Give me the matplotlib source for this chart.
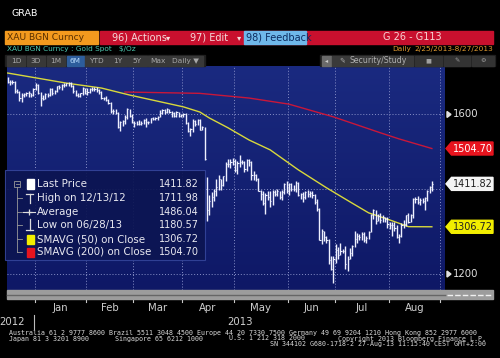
import matplotlib
matplotlib.use("Agg")
import matplotlib.pyplot as plt
import matplotlib.patches as mpatches
import matplotlib.transforms as mtransforms
from matplotlib.lines import Line2D
from matplotlib.colors import LinearSegmentedColormap
import numpy as np
import pandas as pd

W, H = 500, 358

# daily XAU bars, 13 Dec 2012 .. 27 Aug 2013
closes = [1696, 1696, 1697, 1668, 1667, 1647, 1657, 1659, 1662, 1663, 1656, 1675,
          1688, 1664, 1648, 1646, 1660, 1656, 1675, 1662, 1669, 1683, 1680, 1688, 1688, 1692, 1692, 1685, 1670, 1658, 1654, 1662, 1677, 1663,
          1667, 1674, 1675, 1676, 1671, 1667, 1649, 1649, 1643, 1634, 1609, 1610, 1603, 1564, 1577, 1581, 1594, 1615, 1596, 1578,
          1576, 1573, 1574, 1576, 1583, 1577, 1577, 1590, 1588, 1590, 1592, 1604, 1613, 1606, 1615, 1607, 1604, 1596, 1606, 1596, 1597,
          1600, 1575, 1553, 1558, 1581, 1574, 1585, 1557, 1564, 1476, 1348, 1368, 1378, 1393, 1404, 1424, 1408, 1431, 1463, 1462, 1468, 1472,
          1447, 1467, 1469, 1468, 1450, 1473, 1468, 1435, 1434, 1425, 1395, 1387, 1364, 1383, 1378, 1370, 1392, 1386, 1393, 1379, 1392, 1412, 1393,
          1412, 1398, 1398, 1415, 1383, 1387, 1378, 1391, 1387, 1390, 1383, 1367, 1349, 1277, 1297, 1284, 1276, 1230, 1211, 1234,
          1254, 1243, 1251, 1250, 1223, 1233, 1247, 1262, 1279, 1285, 1282, 1291, 1276, 1281, 1295, 1335, 1347, 1320, 1333, 1322, 1329, 1325, 1313,
          1311, 1310, 1303, 1283, 1286, 1312, 1313, 1334, 1319, 1335, 1374, 1374, 1366, 1372, 1370, 1376, 1395, 1404, 1411.82]
highs = [1712, 1701, 1701, 1698, 1675, 1670, 1664, 1663, 1665, 1670, 1664, 1677,
         1693, 1689, 1666, 1656, 1662, 1663, 1679, 1678, 1671, 1685, 1686, 1690, 1693, 1694, 1697, 1696, 1688, 1672, 1663, 1664, 1680, 1679,
         1679, 1677, 1680, 1681, 1680, 1674, 1669, 1652, 1654, 1645, 1635, 1615, 1615, 1607, 1580, 1585, 1599, 1619, 1616, 1600,
         1582, 1582, 1585, 1582, 1588, 1589, 1582, 1591, 1593, 1592, 1595, 1612, 1616, 1617, 1618, 1617, 1610, 1606, 1610, 1607, 1600,
         1605, 1604, 1579, 1561, 1587, 1584, 1588, 1587, 1568, 1565, 1430, 1383, 1392, 1398, 1424, 1435, 1425, 1433, 1469, 1477, 1476, 1478,
         1477, 1470, 1488, 1474, 1471, 1477, 1476, 1470, 1445, 1437, 1428, 1397, 1395, 1388, 1394, 1394, 1396, 1397, 1399, 1395, 1396, 1415, 1418,
         1415, 1415, 1408, 1419, 1417, 1389, 1392, 1395, 1397, 1395, 1393, 1387, 1374, 1351, 1302, 1298, 1285, 1278, 1240, 1240,
         1267, 1260, 1268, 1256, 1262, 1240, 1257, 1265, 1298, 1292, 1290, 1294, 1294, 1285, 1298, 1336, 1349, 1348, 1338, 1340, 1335, 1331, 1331,
         1317, 1318, 1317, 1310, 1290, 1316, 1322, 1335, 1339, 1337, 1376, 1378, 1381, 1376, 1377, 1380, 1397, 1406, 1420]
lows = [1692, 1687, 1690, 1664, 1663, 1640, 1636, 1652, 1655, 1652, 1650, 1654,
        1673, 1661, 1626, 1643, 1645, 1652, 1654, 1658, 1660, 1665, 1676, 1673, 1680, 1684, 1683, 1680, 1664, 1655, 1651, 1650, 1658, 1659,
        1656, 1662, 1670, 1670, 1665, 1661, 1645, 1643, 1640, 1630, 1603, 1602, 1600, 1562, 1554, 1567, 1572, 1587, 1592, 1576,
        1565, 1570, 1570, 1570, 1572, 1563, 1572, 1575, 1584, 1583, 1584, 1592, 1600, 1600, 1605, 1604, 1593, 1593, 1594, 1593, 1594,
        1593, 1573, 1550, 1539, 1550, 1568, 1570, 1555, 1555, 1474, 1321, 1335, 1355, 1368, 1382, 1396, 1396, 1407, 1420, 1456, 1452, 1461,
        1443, 1438, 1456, 1463, 1442, 1446, 1459, 1422, 1421, 1420, 1393, 1371, 1359, 1338, 1371, 1355, 1358, 1382, 1382, 1374, 1372, 1387, 1389,
        1385, 1394, 1393, 1392, 1381, 1375, 1366, 1375, 1380, 1378, 1376, 1362, 1344, 1275, 1267, 1273, 1270, 1222, 1208, 1181,
        1224, 1232, 1242, 1246, 1211, 1207, 1232, 1240, 1260, 1268, 1275, 1276, 1271, 1270, 1278, 1294, 1326, 1313, 1320, 1315, 1318, 1319, 1305,
        1302, 1285, 1298, 1281, 1270, 1282, 1303, 1308, 1315, 1317, 1327, 1363, 1361, 1358, 1363, 1348, 1370, 1388, 1393]

# moving averages read at a few points (bar index, price)
sma50_idx = [0, 25, 40, 52, 75, 82, 86, 94, 103, 112, 124, 136, 146, 154, 163, 171, 181]
sma50_val = [1724, 1693, 1678, 1657, 1622, 1607, 1590, 1562, 1528, 1501, 1448, 1402, 1367, 1340, 1323, 1307, 1306.72]
sma200_idx = [50, 82, 103, 120, 139, 159, 167, 181]
sma200_val = [1666, 1662, 1648, 1630, 1593, 1548, 1531, 1504.70]

months = ["Jan", "Feb", "Mar", "Apr", "May", "Jun", "Jul", "Aug"]
legend_names = ["Last Price", "High on 12/13/12", "Average", "Low on 06/28/13",
                "SMAVG (50) on Close", "SMAVG (200) on Close"]
legend_vals = ["1411.82", "1711.98", "1486.04", "1180.57", "1306.72", "1504.70"]

dates = pd.bdate_range("2012-12-13", "2013-09-03")
dates = dates[~dates.isin(pd.to_datetime(["2012-12-25", "2013-01-01"]))]
idx = np.arange(len(closes))
bounds = []
for m in range(1, 10):
    first = np.where((dates.month == m) & (dates.year == 2013))[0][0]
    bounds.append(first - 0.5)

fig = plt.figure(figsize=(W / 100, H / 100), dpi=100, facecolor="black")


def fx(x):
    return x / W


def fy(y):
    return 1 - y / H


def rect(x0, y0, x1, y1, **kw):
    fig.patches.append(mpatches.Rectangle((fx(x0), fy(y1)), (x1 - x0) / W, (y1 - y0) / H,
                                          transform=fig.transFigure, **kw))


def line(xs, ys, **kw):
    fig.add_artist(Line2D([fx(x) for x in xs], [fy(y) for y in ys], transform=fig.transFigure, **kw))


def txt(x, y, s, **kw):
    kw.setdefault("va", "center")
    fig.text(fx(x), fy(y), s, **kw)


# ---- header
txt(12, 13, "GRAB", color="white", fontsize=6.8)
rect(5, 31, 98, 44, color="#f39a1e", zorder=2)
txt(7, 37.5, "XAU BGN Curncy", color="#5a3000", fontsize=6.6)
rect(100, 31, 493, 44, color="#c8102e", zorder=2)
txt(112, 37.5, "96) Actions", color="#f4dada", fontsize=7)
txt(166, 37.5, "\u25be", color="#f4dada", fontsize=6)
txt(190, 37.5, "97) Edit", color="#f4dada", fontsize=7)
txt(237, 37.5, "\u25be", color="#f4dada", fontsize=6)
rect(244, 31, 306, 44, color="#6fb8ea", zorder=2)
txt(246, 37.5, "98) Feedback", color="#0c2c60", fontsize=7)
txt(412, 37.5, "G 26 - G113", color="#f8d4d4", fontsize=7, ha="center")
txt(7, 49.5, "XAU BGN Curncy : Gold Spot   $/Oz", color="#4ec9b0", fontsize=5.3)
txt(392, 49.5, "Daily", color="#e09a30", fontsize=5.3)
txt(493, 49.5, "2/25/2013-8/27/2013", color="#e09a30", fontsize=5.3, ha="right")

# ---- button bar
rect(5, 55, 205, 66, color="#1e1e1e", zorder=2)
buttons = [("1D", 7, 25), ("3D", 27, 45), ("1M", 47, 65), ("6M", 67, 84), ("YTD", 85, 107),
           ("1Y", 108, 127), ("5Y", 128, 147), ("Max", 148, 167), ("Daily \u25bc", 168, 203)]
for lab, a, b in buttons:
    on = lab == "6M"
    rect(a, 56, b, 65.5, color="#2d5d9c" if on else "#383838", zorder=2)
    txt((a + b) / 2, 60.8, lab, color="#b8dcff" if on else "#a8a8a8", fontsize=5.3, ha="center")
rect(320, 55, 495, 66, color="#1e1e1e", zorder=2)
rect(322, 56, 331, 65.5, color="#6a6a6a", zorder=2)
txt(326.5, 60.8, "\u25c2", color="#cccccc", fontsize=4.5, ha="center")
rect(332, 56, 413, 65.5, color="#3a3a3a", zorder=2)
txt(342, 60.8, "\u270e", color="#aaaaaa", fontsize=5, ha="center")
txt(378, 60.8, "Security/Study", color="#b0b0b0", fontsize=5.6, ha="center")
for (a, b), g in zip([(415, 442), (444, 470), (472, 494)], ["\u25a0", "\u270e", "\u2699"]):
    rect(a, 56, b, 65.5, color="#333333", zorder=2)
    txt((a + b) / 2, 60.8, g, color="#a0a0a0", fontsize=4.5, ha="center")

# ---- price panel
ax = fig.add_axes([7 / W, 1 - 290 / H, 438 / W, 224 / H])
ax.set_yscale("log")
ax.set_axis_off()
bg = LinearSegmentedColormap.from_list("bb", ["#0e1866", "#1a2a80"])
ax.imshow(np.linspace(0, 1, 256).reshape(-1, 1), extent=[0, 1, 0, 1], transform=ax.transAxes,
          cmap=bg, origin="lower", aspect="auto", zorder=0)
ax.set_xlim(-0.3, 186.6)
ax.set_ylim(1166, 1746)

for v in [1200, 1400, 1600]:
    ax.axhline(v, color="#8890c8", lw=0.7, ls=(0, (1, 2)), zorder=1)
for b in bounds:
    ax.axvline(b, color="#8890c8", lw=0.7, ls=(0, (1, 2)), zorder=1)

ax.plot(sma200_idx, sma200_val, color="#c8173a", lw=1.0, zorder=2)
ax.plot(sma50_idx, sma50_val, color="#d8d83c", lw=1.0, zorder=2)
ax.vlines(idx, lows, highs, color="#eef0ff", lw=1.0, zorder=3)
ax.hlines(closes, idx, idx + 0.5, color="#eef0ff", lw=0.8, zorder=3)

# right-hand scale
ytr = ax.get_yaxis_transform()
for v in [1600, 1200]:
    t = fig.dpi_scale_trans + mtransforms.ScaledTranslation(1.0, v, ytr)
    fig.patches.append(mpatches.Polygon([(0.02, 0.03), (0.06, 0.0), (0.02, -0.03)], closed=True,
                                        transform=t, color="#e0e0e0", zorder=4))
    fig.text(0.08, 0, str(v), transform=t, color="#e0e0e0", fontsize=7.3, va="center", zorder=4)

tags = [(1504.70, "#e8141e", "white"), (1411.82, "#f4f4f4", "#202020"), (1306.72, "#f2ee00", "#202020")]
for v, fc, tc in tags:
    t = fig.dpi_scale_trans + mtransforms.ScaledTranslation(1.0, v, ytr)
    verts = [(0.01, 0.0), (0.065, 0.065), (0.48, 0.065), (0.48, -0.065), (0.065, -0.065)]
    fig.patches.append(mpatches.Polygon(verts, closed=True, transform=t, color=fc, zorder=4))
    fig.text(0.275, -0.003, "%.2f" % v, transform=t, color=tc, fontsize=7, ha="center", va="center", zorder=5)

# ---- legend box
rect(5, 170, 205, 260, facecolor="#0c1552", edgecolor="#34449a", lw=0.8, alpha=0.92, zorder=3)
rows = [184, 198, 212, 225, 239, 252]
rect(14, 180.5, 20, 186.5, facecolor="none", edgecolor="#9a9a9a", lw=0.6, zorder=4)
line([15.5, 18.5], [183.5, 183.5], color="#9a9a9a", lw=0.6, zorder=4)
line([17, 17], [186.5, 252], color="#9a9a9a", lw=0.6, zorder=4)
for r in rows[1:]:
    line([17, 22], [r, r], color="#9a9a9a", lw=0.6, zorder=4)
rect(27, 179, 34, 189, color="white", zorder=4)
line([26, 33], [193.5, 193.5], color="#dddddd", lw=0.9, zorder=4)
line([29.5, 29.5], [193.5, 203], color="#dddddd", lw=0.9, zorder=4)
line([23, 35], [212, 212], color="#dddddd", lw=0.8, zorder=4)
line([29], [212], color="#dddddd", marker="+", ms=4, mew=0.9, zorder=4)
line([29.5, 29.5], [219, 230], color="#dddddd", lw=0.9, zorder=4)
line([26, 33], [230, 230], color="#dddddd", lw=0.9, zorder=4)
rect(27, 235, 34, 244, color="#f2ee00", zorder=4)
rect(27, 248, 34, 257, color="#e8141e", zorder=4)
for r, name, val in zip(rows, legend_names, legend_vals):
    txt(37, r, name, color="#e8e8f0", fontsize=7.4, zorder=5)
    txt(199, r, val, color="#e8e8f0", fontsize=7.0, ha="right", zorder=5)

# ---- time strip
rect(7, 290, 493, 299, color="#9c9c9c", zorder=2)
line([7, 445], [294.5, 294.5], color="#666666", lw=1.0, zorder=3)
line([447, 492], [294.5, 294.5], color="#f0f0f0", lw=1.0, ls=(0, (4, 1.5)), zorder=3)
xtr = ax.get_xaxis_transform()
for b in bounds:
    ax.plot([b, b], [-0.04, -0.055], transform=xtr, color="#c8c8c8", lw=0.8, clip_on=False)
for i, m in enumerate(months):
    ax.text((bounds[i] + bounds[i + 1]) / 2, -0.082, m, transform=xtr, color="#d0d0d0",
            fontsize=7.3, ha="center", va="center", clip_on=False)
txt(25, 322, "2012", color="#d0d0d0", fontsize=7.3, ha="right")
line([34, 34], [315, 329], color="#bbbbbb", lw=0.8)
txt(240, 322, "2013", color="#d0d0d0", fontsize=7.3, ha="center")

# ---- footer
foot = dict(color="#d8d8d8", fontsize=4.8, family="DejaVu Sans Mono")
txt(9, 333, "Australia 61 2 9777 8600 Brazil 5511 3048 4500 Europe 44 20 7330 7500 "
            "Germany 49 69 9204 1210 Hong Kong 852 2977 6000", **foot)
txt(9, 338.5, "Japan 81 3 3201 8900", **foot)
txt(115, 338.5, "Singapore 65 6212 1000", **foot)
txt(229, 338.5, "U.S. 1 212 318 2000", **foot)
txt(486, 338.5, "Copyright 2013 Bloomberg Finance L.P.", ha="right", **foot)
txt(486, 344, "SN 344102 G680-1718-2 27-Aug-13 11:15:40 CEST GMT+2:00", ha="right", **foot)

fig.savefig("out.png", dpi=100, facecolor="black")
